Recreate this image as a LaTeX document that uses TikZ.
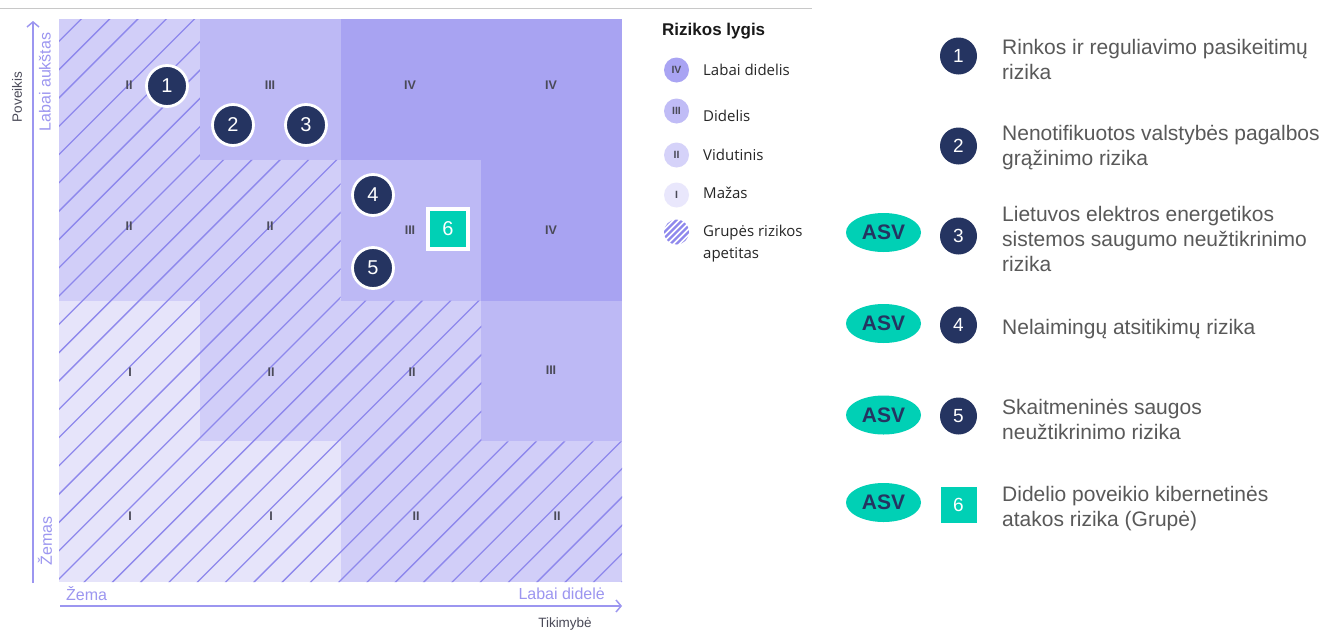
\documentclass[tikz,border=0pt]{standalone}
\usepackage{fontspec}
\setmainfont{Liberation Sans}
\newfontfamily\legfont{Open Sans}
\usetikzlibrary{arrows.meta,shapes.geometric}
\definecolor{cI}{HTML}{E6E4FA}
\definecolor{cII}{HTML}{D1CEF8}
\definecolor{cIII}{HTML}{BDB9F5}
\definecolor{cIV}{HTML}{A8A3F2}
\definecolor{lIV}{HTML}{A9A4F3}
\definecolor{lIII}{HTML}{C0BCF6}
\definecolor{lII}{HTML}{D5D2F9}
\definecolor{lI}{HTML}{E9E7FC}
\definecolor{hatchc}{HTML}{8E88EC}
\definecolor{axisc}{HTML}{9C96F0}
\definecolor{navy}{HTML}{253461}
\definecolor{tealc}{HTML}{00D0B5}
\definecolor{txtgray}{HTML}{595959}
\definecolor{numc}{HTML}{4A4A58}
\definecolor{rulec}{HTML}{C8C8C8}
\begin{document}
\begin{tikzpicture}[x=1pt,y=-1pt,
  cellnum/.style={font=\fontsize{12.5}{12.5}\selectfont\bfseries, text=numc, inner sep=0},
  mk/.style={circle, fill=navy, draw=white, line width=2.8pt, minimum size=41pt, inner sep=0, text=white, font=\fontsize{20}{20}\selectfont},
  sqmk/.style={rectangle, fill=tealc, draw=white, line width=3.5pt, minimum size=40pt, inner sep=0, text=white, font=\fontsize{20}{20}\selectfont},
  listmk/.style={circle, fill=navy, minimum size=37pt, inner sep=0, text=white, font=\fontsize{19}{19}\selectfont},
  listsq/.style={rectangle, fill=tealc, minimum size=36pt, inner sep=0, text=white, font=\fontsize{19}{19}\selectfont},
  asv/.style={ellipse, fill=tealc, minimum width=75pt, minimum height=39pt, inner sep=0, text=navy, font=\fontsize{21}{21}\selectfont\bfseries},
  desc/.style={anchor=west, align=left, inner sep=0, text=txtgray, font=\fontsize{21}{25}\selectfont},
  legc/.style={circle, minimum size=25pt, inner sep=0, text=numc, font=\fontsize{10.5}{10.5}\selectfont\bfseries},
  legt/.style={anchor=west, inner sep=0, text=black!85, font=\legfont\fontsize{15}{22}\selectfont, align=left},
  axl/.style={inner sep=0, text=axisc, font=\fontsize{16}{16}\selectfont},
  axname/.style={inner sep=0, text=numc, font=\fontsize{13.5}{13.5}\selectfont},
  axisline/.style={draw=axisc, line width=1.5pt, -{Straight Barb[length=5pt,width=12pt]}}
]
\useasboundingbox (0,0) rectangle (1327,632);
\fill[white] (0,0) rectangle (1327,632);
% top rule
\draw[rulec, line width=1pt] (0,8) -- (812,8);
% cells
\foreach \c/\r/\col in {1/1/cII,2/1/cIII,3/1/cIV,4/1/cIV,
                         1/2/cII,2/2/cII,3/2/cIII,4/2/cIV,
                         1/3/cI,2/3/cII,3/3/cII,4/3/cIII,
                         1/4/cI,2/4/cI,3/4/cII,4/4/cII}
  \fill[\col] ({59+140.75*(\c-1)},{19+140.75*(\r-1)}) rectangle ++(140.75,140.75);
% hatching (group risk appetite)
\begin{scope}
  \clip (59,19) -- (199.75,19) -- (199.75,159.75) -- (340.5,159.75) -- (340.5,300.5)
        -- (481.25,300.5) -- (481.25,441.25) -- (622,441.25) -- (622,582) -- (59,582) -- cycle;
  \foreach \k in {0,...,44}
    \draw[hatchc, line width=1.3pt] ({15.4+28.3*\k-600},600) -- ({15.4+28.3*\k},0);
\end{scope}
% cell labels
\foreach \x/\y/\t/\n in {129/85/II/a11,270/85/III/a12,410/85/IV/a13,551/85/IV/a14,
                         129/226/II/a21,270/226/II/a22,410/230/III/a23,551/230/IV/a24,
                         130/372/I/a31,271/372/II/a32,412/372/II/a33,551/370/III/a34,
                         130/516/I/a41,271/516/I/a42,416/516/II/a43,557/516/II/a44}
  \node[cellnum] (\n) at (\x,\y) {\t};
% markers on grid
\node[mk] (m1) at (167,86) {1};
\node[mk] (m2) at (233,125) {2};
\node[mk] (m3) at (306,125) {3};
\node[mk] (m4) at (373,195) {4};
\node[mk] (m5) at (373,268) {5};
\node[sqmk] (m6) at (448,229) {6};
% axes
\coordinate (vb) at (33,583);
\coordinate (vt) at (33,21);
\draw[axisline] (vb) -- (vt);
\coordinate (hl) at (60,606);
\coordinate (hr) at (622,606);
\draw[axisline] (hl) -- (hr);
\node[axl, rotate=90] (vhigh) at (45,82) {Labai aukštas};
\node[axl, rotate=90] (vlow) at (45,541) {Žemas};
\node[axname, rotate=90] (vname) at (17,97) {Poveikis};
\node[axl, anchor=west] (hlow) at (66,594) {Žema};
\node[axl, anchor=east] (hhigh) at (605,594) {Labai didelė};
\node[axname] (hname) at (565,624) {Tikimybė};
% legend
\node[anchor=west, inner sep=0, font=\fontsize{17}{17}\selectfont\bfseries, text=black!90] (lt) at (662,31) {Rizikos lygis};
\node[legc, fill=lIV] (g4) at (676.5,70) {IV};
\node[legc, fill=lIII] (g3) at (676.5,111) {III};
\node[legc, fill=lII] (g2) at (676.5,155) {II};
\node[legc, fill=lI] (g1) at (676.5,195) {I};
\begin{scope}
  \clip (676.5,232) circle (12.5);
  \foreach \k in {-3,...,3}
    \draw[hatchc, line width=2.2pt] ({676.5+6*\k-20},252) -- ({676.5+6*\k+20},212);
\end{scope}
\coordinate (gh) at (676.5,232);
\node[legt] (t4) at (703,70) {Labai didelis};
\node[legt] (t3) at (703,116) {Didelis};
\node[legt] (t2) at (703,155) {Vidutinis};
\node[legt] (t1) at (703,193) {Mažas};
\node[legt] (th) at (703,244) {Grupės rizikos\\apetitas};
% right list
\node[listmk] (r1) at (958.5,56) {1};
\node[listmk] (r2) at (958.5,146) {2};
\node[listmk] (r3) at (958.5,236) {3};
\node[listmk] (r4) at (958.5,325) {4};
\node[listmk] (r5) at (958.5,416) {5};
\node[listsq] (r6) at (958.5,504.5) {6};
\node[asv] (s3) at (883.5,232.5) {ASV};
\node[asv] (s4) at (883.5,323.5) {ASV};
\node[asv] (s5) at (883.5,415) {ASV};
\node[asv] (s6) at (883.5,502.5) {ASV};
\node[desc] (d1) at (1002,59) {Rinkos ir reguliavimo pasikeitimų\\rizika};
\node[desc] (d2) at (1002,148) {Nenotifikuotos valstybės pagalbos\\grąžinimo rizika};
\node[desc] (d3) at (1002,239) {Lietuvos elektros energetikos\\sistemos saugumo neužtikrinimo\\rizika};
\node[desc] (d4) at (1002,329) {Nelaimingų atsitikimų rizika};
\node[desc] (d5) at (1002,419) {Skaitmeninės saugos\\neužtikrinimo rizika};
\node[desc] (d6) at (1002,509) {Didelio poveikio kibernetinės\\atakos rizika (Grupė)};
\end{tikzpicture}
\end{document}
